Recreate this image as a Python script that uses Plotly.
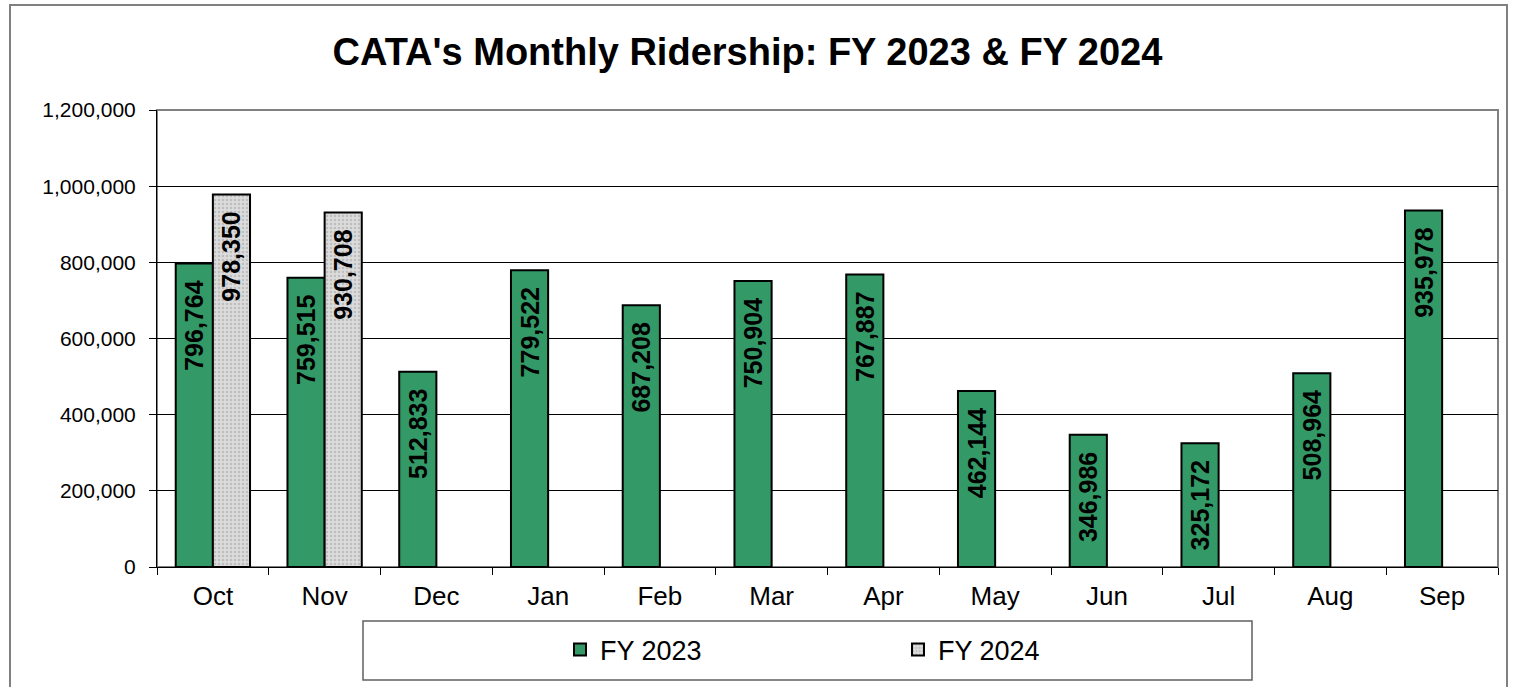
import plotly.graph_objects as go

months = ["Oct", "Nov", "Dec", "Jan", "Feb", "Mar", "Apr", "May", "Jun", "Jul", "Aug", "Sep"]
fy2023 = [796764, 759515, 512833, 779522, 687208, 750904, 767887, 462144, 346986, 325172, 508964, 935978]
fy2024 = [978350, 930708, None, None, None, None, None, None, None, None, None, None]
y_ticks = [0, 200000, 400000, 600000, 800000, 1000000, 1200000]

def lab(v):
    return "" if v is None else f"{v:,}\u00a0\u00a0"

# plot area target (screen): x 157..1498, y 110..567
L, R, T, B = 157, 1498, 110, 567
PW, PH = R - L, B - T

def px(xs):
    return (xs - L) / PW

def py(ys):
    return (B - ys) / PH

label_font = dict(family="Arial", size=25, color="black", weight="bold")

fig = go.Figure()
fig.add_trace(go.Bar(
    x=months, y=fy2023, name="FY 2023",
    marker=dict(color="#339966", line=dict(color="black", width=2)),
    text=[lab(v) for v in fy2023], textposition="inside", textangle=-90,
    insidetextanchor="end", textfont=label_font,
))
fig.add_trace(go.Bar(
    x=months, y=fy2024, name="FY 2024",
    marker=dict(color="#d9d9d9", line=dict(color="black", width=2),
                pattern=dict(shape=".", fgcolor="#a0a0a0", bgcolor="#dcdcdc", size=4, solidity=0.35)),
    text=[lab(v) for v in fy2024], textposition="inside", textangle=-90,
    insidetextanchor="end", textfont=label_font,
))

fig.update_layout(
    width=1514, height=687,
    margin=dict(l=L, r=1514 - R, t=T, b=687 - B),
    paper_bgcolor="white", plot_bgcolor="white",
    barmode="group", bargap=0.335, bargroupgap=0,
    font=dict(family="Arial", color="black"),
    title=dict(text="<b>CATA's Monthly Ridership: FY 2023 & FY 2024</b>",
               x=px(747.5), xanchor="center", xref="paper",
               y=1 - 52 / 687, yanchor="middle",
               font=dict(family="Arial", size=38, color="black")),
    xaxis=dict(showgrid=False, ticks="outside", tickson="boundaries", ticklen=7,
               tickcolor="black", ticklabelstandoff=6,
               tickfont=dict(size=26, family="Arial"),
               showline=True, linecolor="black", linewidth=1, mirror=False),
    yaxis=dict(range=[0, 1200000], tickvals=y_ticks, tickformat=",d",
               showgrid=True, gridcolor="black", gridwidth=1,
               ticks="outside", ticklen=7, tickcolor="black", ticklabelstandoff=9,
               tickfont=dict(size=21, family="Arial"),
               showline=True, linecolor="black", linewidth=1, zeroline=False),
    showlegend=True,
    legend=dict(orientation="h", x=px(560), xanchor="left", y=py(650), yanchor="middle",
                entrywidth=293, entrywidthmode="pixels",
                font=dict(size=27, family="Arial"), bgcolor="rgba(0,0,0,0)",
                traceorder="normal"),
)

# plot area frame (gray)
fig.add_shape(type="rect", xref="paper", yref="paper", x0=0, x1=1, y0=0, y1=1,
              line=dict(color="#808080", width=2), layer="below")
# legend box
fig.add_shape(type="rect", xref="paper", yref="paper",
              x0=px(363), x1=px(1252), y0=py(680), y1=py(621),
              line=dict(color="#606060", width=1.5))
# outer chart frame
fig.add_shape(type="rect", xref="paper", yref="paper",
              x0=px(10), x1=px(1507), y0=py(720), y1=py(5),
              line=dict(color="#808080", width=2))

fig.write_html("out.html",
               config={"displayModeBar": False},
               post_script="document.body.style.margin='0';document.body.style.overflow='hidden';")
